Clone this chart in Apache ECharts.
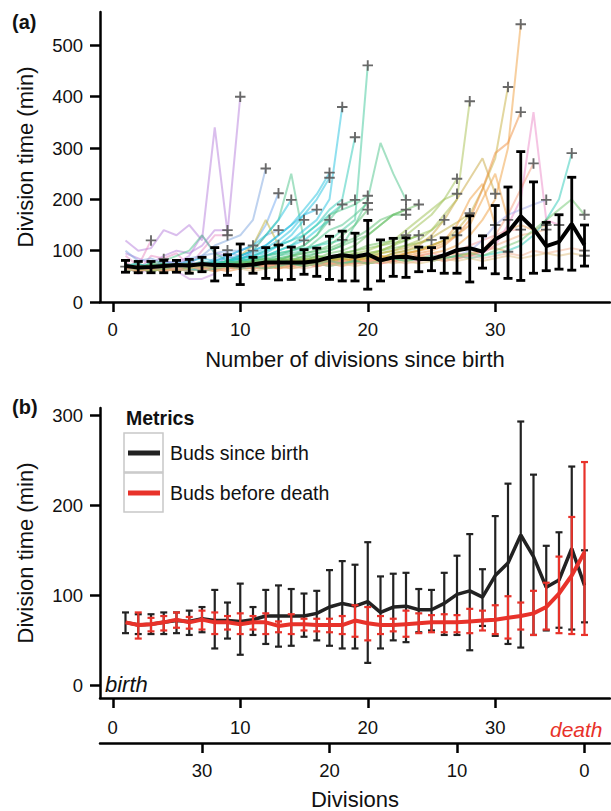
<!DOCTYPE html>
<html><head><meta charset="utf-8">
<script src="https://cdn.jsdelivr.net/npm/echarts@6/dist/echarts.min.js"></script>
<style>html,body{margin:0;padding:0;background:#fff}#c{width:611px;height:811px}</style>
</head><body><div id="c"></div>
<script>
// ---------- DATA ----------
const divisions = [1,2,3,4,5,6,7,8,9,10,11,12,13,14,15,16,17,18,19,20,21,22,23,24,25,26,27,28,29,30,31,32,33,34,35,36,37];
const xTicks = [0,10,20,30];
const bottomTicks = [0,10,20,30];
const yTicksA = [0,100,200,300,400,500];
const yTicksB = [0,100,200,300];

// mean / SD band for buds since birth (black)
const meanBirth  = [70,67,68,70,72,71,74,72,72,71,73,77,77,77,77,80,87,91,88,93,81,87,88,84,84,91,101,105,98,122,136,167,143,109,117,152,111];
const upperBirth = [81,79,79,81,81,83,87,106,92,113,87,106,111,107,102,105,128,138,134,159,121,124,125,107,106,125,144,168,129,188,224,293,234,155,170,243,150];
const lowerBirth = [58,57,57,57,58,56,59,41,52,34,56,46,43,44,54,50,44,41,41,25,41,50,48,59,61,56,56,39,66,55,46,42,56,61,64,62,70];

// mean / SD band for buds before death (red), plotted on the same birth-aligned scale
const meanDeath  = [70,67,68,70,73,70,73,70,70,68,70,70,66,68,68,67,67,67,72,69,67,67,68,69,70,70,70,71,72,73,75,77,80,87,102,122,148];
const upperDeath = [null,81,75,77,81,76,83,81,77,80,77,80,71,79,74,74,74,77,89,87,77,74,83,80,78,79,78,85,83,89,99,92,105,114,143,187,248];
const lowerDeath = [null,52,60,61,64,63,62,57,62,57,62,57,59,57,61,60,59,57,54,50,57,60,54,58,59,59,59,58,61,57,52,62,56,62,58,57,56];

// individual cell traces (division time per division, from birth to death)
const cellTraces = [
 [69],
 [120,100,105,140,130,150,120,340,135,400],
 [95,85,75,90,100,95,110,140,140],
 [80,60,90,85,95,70,100,130,130],
 [70,55,65,75,60,45,45,55,101],
 [90,70,120],
 [75,65,60,84],
 [100,80,85,75,70,85,90,95,100,100,110],
 [65,60,70,80,75,90,130,95,90,80,100],
 [70,75,65,80,70,75,90,110,120,130,160,260],
 [65,70,60,75,80,70,65,80,90,100,110,150,212],
 [75,60,70,65,75,80,70,85,95,90,100,130,140],
 [60,70,65,60,70,65,75,70,80,90,110,160,111],
 [70,65,75,80,90,100,130,95,80,90,100,130,160,250,120],
 [60,70,65,70,60,65,70,75,80,85,90,100,110,130,160],
 [65,70,75,60,70,80,85,80,90,100,110,130,160,199],
 [70,65,60,70,65,75,70,80,85,90,100,110,130,150,170,180],
 [60,65,70,60,70,65,75,70,80,90,100,110,130,150,180,210,252],
 [65,60,65,70,75,70,65,75,80,85,95,105,120,140,170,200,242],
 [70,75,60,65,70,60,70,65,75,80,85,90,100,110,120,140,160],
 [60,65,70,75,65,70,75,70,80,85,90,95,110,120,140,160,200,380],
 [65,70,60,65,70,75,70,80,75,85,90,100,110,120,130,150,170,190],
 [75,60,70,65,60,70,80,75,70,80,85,90,95,100,105,110,115,121],
 [60,70,65,75,70,65,75,70,80,85,80,90,100,110,130,150,180,200,321],
 [70,65,75,60,65,70,75,70,80,75,85,90,95,100,110,130,160,190,199],
 [65,60,70,65,75,70,65,75,70,80,85,80,90,95,100,110,120,140,160,461],
 [70,75,65,70,60,65,70,75,80,75,80,85,90,100,110,130,170,180,190,207],
 [60,70,65,60,70,75,70,65,75,80,75,80,85,90,100,120,140,150,170,193],
 [65,60,70,75,65,70,60,70,75,70,80,85,80,90,95,100,110,130,150,180],
 [70,65,60,70,65,70,75,70,65,75,80,75,85,80,90,95,100,110,150,200,310,250,199],
 [60,70,65,75,70,65,70,75,70,80,75,80,85,90,85,95,100,110,120,130,150,170,180],
 [65,60,70,65,60,70,65,70,75,70,80,85,80,90,95,100,105,115,125,140,160,170,170],
 [70,65,75,70,65,60,70,65,70,75,70,80,75,85,80,90,85,95,100,110,115,120,130],
 [60,65,60,70,75,70,65,70,65,75,80,75,85,80,90,85,95,100,110,130,150,170,180,190],
 [65,70,65,60,70,65,75,70,65,70,75,70,80,85,80,90,85,95,100,105,110,115,120,130],
 [70,60,65,70,65,70,60,65,70,75,70,75,80,75,85,80,90,85,95,90,100,105,110,115,121],
 [60,65,70,65,75,70,65,70,75,70,65,75,70,80,75,85,80,90,85,95,100,110,120,130,140,160],
 [65,70,60,65,70,65,75,70,65,70,75,70,80,75,80,85,80,90,85,95,100,110,130,150,170,200,240],
 [70,65,70,60,65,70,65,70,75,70,75,80,75,80,85,80,85,90,95,100,110,120,140,160,180,200,211],
 [60,70,65,70,65,60,70,65,70,65,70,75,70,75,80,75,80,85,80,90,85,95,100,105,110,120,130],
 [65,60,70,65,70,75,65,70,65,70,75,70,75,80,75,80,85,80,90,85,95,100,110,120,140,170,200,391],
 [70,65,60,70,65,70,75,70,65,70,65,75,70,80,75,80,85,80,85,90,95,100,105,115,125,140,155,173],
 [60,70,65,60,70,65,70,65,75,70,65,70,75,70,80,75,80,85,80,90,85,95,100,110,130,160,200,240,280,211],
 [65,60,70,65,60,70,65,70,65,70,75,70,65,75,70,75,80,75,80,85,80,90,95,100,110,120,150,200,230,150],
 [70,65,60,65,70,65,70,65,70,75,70,75,70,75,80,75,80,85,80,85,90,85,95,100,110,120,140,170,220,280,419],
 [60,65,70,60,65,70,65,60,70,65,70,75,70,75,70,80,75,80,85,80,90,85,95,100,105,115,130,150,200,250,160],
 [65,70,65,70,60,65,70,65,70,65,70,65,75,70,75,70,80,75,80,75,85,80,85,90,85,90,95,90,100,105,98],
 [70,60,65,70,65,60,65,70,65,70,65,70,75,70,75,70,75,80,75,80,85,80,85,90,95,100,110,130,160,200,300,541],
 [60,65,70,65,70,65,70,65,60,65,70,65,70,75,70,75,80,75,80,75,80,85,90,95,100,110,130,160,220,290,310,370],
 [65,70,60,65,70,65,60,70,65,70,75,70,65,70,75,70,75,80,75,80,85,80,85,90,95,90,100,110,120,130,140,141],
 [70,65,70,60,65,70,65,70,65,70,65,70,75,70,75,70,75,80,75,80,75,80,85,80,85,90,85,90,95,110,150,200,370,160,150],
 [65,60,65,70,65,70,60,65,70,65,70,75,70,65,70,75,70,80,75,80,75,80,85,90,85,80,85,90,100,130,170,220,270],
 [60,70,65,70,65,60,70,65,70,65,70,65,70,75,70,75,80,75,80,75,80,85,80,85,90,85,90,100,120,150,170,180,190,199],
 [70,65,60,65,70,65,70,60,65,70,65,70,65,70,75,70,75,70,80,75,80,85,80,85,80,85,90,95,100,120,140,150,140,150],
 [65,70,65,60,65,70,65,70,65,70,65,70,75,70,75,80,75,80,75,80,85,80,85,90,85,90,85,95,100,110,120,130,135,141],
 [60,65,70,65,70,65,60,65,70,65,70,65,70,75,70,75,70,75,80,75,80,85,80,85,80,85,90,85,90,95,100,110,130,160,200,290],
 [70,65,60,65,70,65,70,65,70,75,70,65,70,75,70,75,80,75,80,75,80,85,80,85,90,85,90,95,90,100,110,120,140,160,180,200,170],
 [65,60,65,70,65,70,65,60,65,70,65,70,75,70,65,70,75,70,75,80,75,80,75,80,85,80,85,90,85,90,95,90,100,95,100,105,100],
 [60,65,70,65,60,65,70,65,70,65,60,65,70,65,70,75,70,75,70,75,80,75,80,75,80,85,80,85,80,85,90,85,90,95,90,95,90]
];

// ---------- STYLE ----------
const traceColors = ['#888888',
 '#b57edc','#b57edc','#e88bc4','#c88de0','#e88bc4','#f28e8e','#7ea6e0','#b57edc','#7ea6e0','#6fa8f0','#7ea6e0','#c2b23a',
 '#4cc38a','#22c1e0','#22c1e0','#22b5e8','#22c1e0','#22c1e0','#1ec8d8','#22c1e0','#2ccab8','#2ccab8','#2ccab8','#4cc38a',
 '#3ec79a','#4cc38a','#4cc38a','#5cc070','#4cc38a','#5cc070','#5cc070','#6cc060','#6cc060','#7cc050','#7cc050','#90c050',
 '#9cc050','#9cc050','#a8c050','#a8c050','#c0b040','#c8a840','#f0a040','#c8b040','#f0a040','#f59a50','#f0a040','#f09040',
 '#f5a0a0','#ec8ac8','#f5a080','#a0a8e8','#f0a860','#f0b080','#2ccab8','#70c870','#f0b090','#e0c080'];

const FONT = 'Liberation Sans, Arial, Helvetica, sans-serif';
const TXT = '#111';
const TICK_FS = 18.5;
const TITLE_FS = 22;

function errBars(color, lw, cap) {
  return function (params, api) {
    const x = api.value(0), lo = api.value(1), hi = api.value(2);
    if (lo == null || hi == null || isNaN(lo) || isNaN(hi)) return null;
    const a = api.coord([x, hi]), b = api.coord([x, lo]);
    const st = {stroke: color, lineWidth: lw};
    const w = cap / 2;
    return {type: 'group', children: [
      {type: 'line', shape: {x1: a[0], y1: a[1], x2: b[0], y2: b[1]}, style: st},
      {type: 'line', shape: {x1: a[0] - w, y1: a[1], x2: a[0] + w, y2: a[1]}, style: st},
      {type: 'line', shape: {x1: b[0] - w, y1: b[1], x2: b[0] + w, y2: b[1]}, style: st}
    ]};
  };
}

const axisLineStyle = {show: true, onZero: false, lineStyle: {color: '#000', width: 2.5}};
const tickStyle = (vals) => ({show: true, length: 10, customValues: vals, lineStyle: {color: '#000', width: 2.5}});
const labelStyle = (vals, margin) => ({customValues: vals, margin: margin, fontFamily: FONT, fontSize: TICK_FS, color: TXT});
const nameStyle = {fontFamily: FONT, fontSize: TITLE_FS, color: TXT};

const series = [];
cellTraces.forEach((t, i) => {
  series.push({
    type: 'line', xAxisIndex: 0, yAxisIndex: 0, silent: true, symbol: 'none',
    data: t.map((v, j) => [divisions[j], v]),
    lineStyle: {color: traceColors[i], width: 2, opacity: 0.5}, z: 1
  });
});
series.push({
  type: 'scatter', xAxisIndex: 0, yAxisIndex: 0, silent: true, z: 3,
  symbol: 'path://M0,4.1H10V5.9H0Z M4.1,0H5.9V10H4.1Z', symbolSize: 10.5,
  itemStyle: {color: '#5a5a5a', opacity: 0.9},
  data: cellTraces.map(t => [t.length, t[t.length - 1]])
});
series.push({
  type: 'custom', xAxisIndex: 0, yAxisIndex: 0, silent: true, z: 4,
  renderItem: errBars('#000', 2.8, 9),
  data: divisions.map((d, i) => [d, lowerBirth[i], upperBirth[i]])
});
series.push({
  type: 'line', xAxisIndex: 0, yAxisIndex: 0, silent: true, symbol: 'none', z: 5,
  lineStyle: {color: '#000', width: 4},
  data: divisions.map((d, i) => [d, meanBirth[i]])
});
// panel b
series.push({
  type: 'custom', xAxisIndex: 1, yAxisIndex: 1, silent: true, z: 4,
  renderItem: errBars('#222', 2.2, 7),
  data: divisions.map((d, i) => [d, lowerBirth[i], upperBirth[i]])
});
series.push({
  name: 'Buds since birth', type: 'line', xAxisIndex: 1, yAxisIndex: 1, symbol: 'none', z: 5,
  itemStyle: {color: '#222'}, lineStyle: {color: '#222', width: 3.5},
  data: divisions.map((d, i) => [d, meanBirth[i]])
});
series.push({
  type: 'custom', xAxisIndex: 1, yAxisIndex: 1, silent: true, z: 6,
  renderItem: errBars('#e8322a', 2.2, 7),
  data: divisions.map((d, i) => [d, lowerDeath[i], upperDeath[i]])
});
series.push({
  name: 'Buds before death', type: 'line', xAxisIndex: 1, yAxisIndex: 1, symbol: 'none', z: 7,
  itemStyle: {color: '#e8322a'}, lineStyle: {color: '#e8322a', width: 4},
  data: divisions.map((d, i) => [d, meanDeath[i]])
});

const option = {
  animation: false,
  backgroundColor: '#fff',
  textStyle: {fontFamily: FONT},
  grid: [
    {left: 100, right: 1, top: 12, height: 290},
    {left: 100, right: 1, top: 408, height: 290}
  ],
  xAxis: [
    {gridIndex: 0, type: 'value', min: -1, max: 39, splitLine: {show: false},
     axisLine: axisLineStyle, axisTick: tickStyle(xTicks), axisLabel: labelStyle(xTicks, 18),
     name: 'Number of divisions since birth', nameLocation: 'middle', nameGap: 46, nameTextStyle: nameStyle},
    {gridIndex: 1, type: 'value', min: -1, max: 39, splitLine: {show: false},
     axisLine: axisLineStyle, axisTick: tickStyle(xTicks), axisLabel: labelStyle(xTicks, 20)},
    {gridIndex: 1, type: 'value', min: -2, max: 38, inverse: true, position: 'bottom', offset: 45,
     splitLine: {show: false},
     axisLine: axisLineStyle, axisTick: tickStyle(bottomTicks), axisLabel: labelStyle(bottomTicks, 18),
     name: 'Divisions', nameLocation: 'middle', nameGap: 45, nameTextStyle: nameStyle}
  ],
  yAxis: [
    {gridIndex: 0, type: 'value', min: 0, max: 565, splitLine: {show: false},
     axisLine: axisLineStyle, axisTick: tickStyle(yTicksA),
     axisLabel: labelStyle(yTicksA, 17),
     name: 'Division time (min)', nameLocation: 'middle', nameGap: 64, nameTextStyle: nameStyle},
    {gridIndex: 1, type: 'value', min: -14, max: 308, splitLine: {show: false},
     axisLine: axisLineStyle, axisTick: tickStyle(yTicksB),
     axisLabel: labelStyle(yTicksB, 17),
     name: 'Division time (min)', nameLocation: 'middle', nameGap: 64, nameTextStyle: nameStyle}
  ],
  legend: {
    data: ['Buds since birth', 'Buds before death'],
    orient: 'vertical', left: 128, top: 443, padding: 0, itemWidth: 32, itemHeight: 5, itemGap: 20,
    icon: 'rect', selectedMode: false,
    textStyle: {fontFamily: FONT, fontSize: 19.5, color: TXT, lineHeight: 20, padding: [0, 0, 0, 5]}
  },
  graphic: [
    {type: 'text', left: 12, top: 12, style: {text: '(a)', font: 'bold 20px ' + FONT, fill: TXT}},
    {type: 'text', left: 12, top: 397, style: {text: '(b)', font: 'bold 20px ' + FONT, fill: TXT}},
    {type: 'text', left: 126, top: 408, style: {text: 'Metrics', font: 'bold 19.5px ' + FONT, fill: TXT}},
    {type: 'rect', shape: {x: 124, y: 433, width: 39, height: 39}, style: {fill: 'none', stroke: '#c8c8c8', lineWidth: 1.5}, z: 10},
    {type: 'rect', shape: {x: 124, y: 473, width: 39, height: 39}, style: {fill: 'none', stroke: '#c8c8c8', lineWidth: 1.5}, z: 10},
    {type: 'text', left: 105, top: 673, style: {text: 'birth', font: 'italic 22px ' + FONT, fill: TXT}},
    {type: 'text', left: 550, top: 719, style: {text: 'death', font: 'italic 21px ' + FONT, fill: '#e8322a'}}
  ],
  series: series
};

const chart = echarts.init(document.getElementById('c'), null, {renderer: 'svg'});
chart.setOption(option);
</script>
</body></html>
